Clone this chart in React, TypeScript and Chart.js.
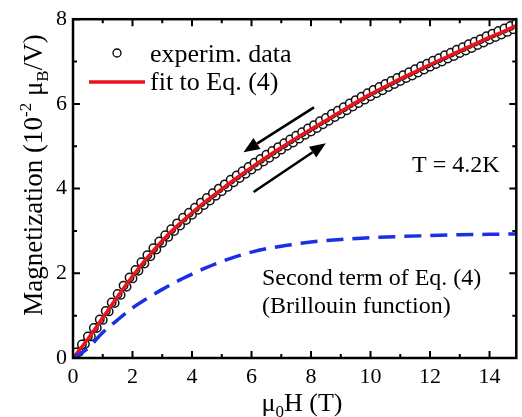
import React, { useEffect, useRef } from "react";
import { Chart, registerables } from "chart.js";

Chart.register(...registerables);

// ---------- data ----------
const FIELD_STEP = 0.2;
// up sweep: field 0.0, 0.2, ... 14.8 T
const upSweepM = [
  0.0, 0.14, 0.33, 0.51, 0.71, 0.9, 1.1, 1.3, 1.49, 1.68, 1.88, 2.06, 2.23, 2.4, 2.56,
  2.72, 2.86, 3.0, 3.13, 3.26, 3.38, 3.5, 3.61, 3.72, 3.83, 3.94, 4.04, 4.15, 4.25, 4.35,
  4.45, 4.54, 4.64, 4.73, 4.82, 4.92, 5.01, 5.09, 5.18, 5.27, 5.35, 5.43, 5.52, 5.6, 5.69,
  5.77, 5.85, 5.94, 6.02, 6.1, 6.18, 6.25, 6.32, 6.4, 6.47, 6.54, 6.61, 6.67, 6.74, 6.81,
  6.88, 6.94, 7.0, 7.07, 7.13, 7.2, 7.26, 7.32, 7.39, 7.45, 7.52, 7.58, 7.64, 7.7, 7.76,
];
// down sweep: field 0.1, 0.3, ... 14.9 T
const downSweepM = [
  0.13, 0.32, 0.51, 0.71, 0.91, 1.11, 1.31, 1.51, 1.71, 1.9, 2.08, 2.26, 2.43, 2.59, 2.75,
  2.9, 3.04, 3.18, 3.31, 3.43, 3.55, 3.67, 3.78, 3.89, 4.0, 4.1, 4.21, 4.31, 4.41, 4.51,
  4.61, 4.7, 4.8, 4.89, 4.98, 5.07, 5.16, 5.25, 5.33, 5.42, 5.5, 5.59, 5.67, 5.76, 5.84,
  5.92, 6.01, 6.09, 6.17, 6.25, 6.33, 6.4, 6.47, 6.54, 6.61, 6.68, 6.75, 6.82, 6.89, 6.95,
  7.02, 7.08, 7.15, 7.21, 7.28, 7.34, 7.41, 7.47, 7.53, 7.6, 7.66, 7.72, 7.78, 7.84, 7.9,
];

const fitField = [0, 0.5, 1, 1.5, 2, 2.5, 3, 3.5, 4, 4.5, 5, 5.5, 6, 6.5, 7, 7.5, 8, 8.5, 9, 9.5, 10, 10.5, 11, 11.5, 12, 12.5, 13, 13.5, 14, 14.5, 14.9];
const fitM = [0, 0.45, 0.95, 1.45, 1.93, 2.37, 2.77, 3.12, 3.43, 3.72, 3.99, 4.25, 4.5, 4.74, 4.97, 5.19, 5.4, 5.61, 5.82, 6.03, 6.23, 6.41, 6.59, 6.76, 6.93, 7.09, 7.25, 7.41, 7.57, 7.72, 7.85];

const brillField = [0, 0.5, 1, 1.5, 2, 2.5, 3, 3.5, 4, 4.5, 5, 5.5, 6, 6.5, 7, 7.5, 8, 9, 10, 11, 12, 13, 14, 14.9];
const brillM = [0, 0.23, 0.6, 0.9, 1.18, 1.41, 1.62, 1.81, 1.98, 2.14, 2.28, 2.4, 2.5, 2.58, 2.64, 2.69, 2.74, 2.8, 2.84, 2.87, 2.89, 2.91, 2.92, 2.93];

const xTicks = [0, 2, 4, 6, 8, 10, 12, 14];
const xMinor = [1, 3, 5, 7, 9, 11, 13];
const yTicks = [0, 2, 4, 6, 8];
const yMinor = [1, 3, 5, 7];

// arrows: [tailX, tailY, headX, headY] in data units
const arrowDown = [8.1, 5.92, 5.73, 4.86];
const arrowUp = [6.07, 3.92, 8.5, 5.07];

const legendLabels = ["experim. data", "fit to Eq. (4)"];
const annotTemp = "T = 4.2K";
const annotLine1 = "Second term of Eq. (4)";
const annotLine2 = "(Brillouin function)";

const SERIF = "'Liberation Serif', 'DejaVu Serif', serif";

function drawArrow(ctx: CanvasRenderingContext2D, x1: number, y1: number, x2: number, y2: number) {
  const ang = Math.atan2(y2 - y1, x2 - x1);
  const headLen = 16;
  const headW = 6.5;
  const bx = x2 - headLen * Math.cos(ang);
  const by = y2 - headLen * Math.sin(ang);
  ctx.beginPath();
  ctx.moveTo(x1, y1);
  ctx.lineTo(bx, by);
  ctx.lineWidth = 2.6;
  ctx.strokeStyle = "#000";
  ctx.stroke();
  ctx.beginPath();
  ctx.moveTo(x2, y2);
  ctx.lineTo(bx + headW * Math.sin(ang), by - headW * Math.cos(ang));
  ctx.lineTo(bx - headW * Math.sin(ang), by + headW * Math.cos(ang));
  ctx.closePath();
  ctx.fillStyle = "#000";
  ctx.fill();
}

const framePlugin = {
  id: "framePlugin",
  afterDatasetsDraw(chart: any) {
    const { ctx, chartArea, scales } = chart;
    const xs = scales.x;
    const ys = scales.y;
    const { left, right, top, bottom } = chartArea;
    ctx.save();
    // arrows
    drawArrow(ctx, xs.getPixelForValue(arrowDown[0]), ys.getPixelForValue(arrowDown[1]), xs.getPixelForValue(arrowDown[2]), ys.getPixelForValue(arrowDown[3]));
    drawArrow(ctx, xs.getPixelForValue(arrowUp[0]), ys.getPixelForValue(arrowUp[1]), xs.getPixelForValue(arrowUp[2]), ys.getPixelForValue(arrowUp[3]));

    // frame
    ctx.strokeStyle = "#000";
    ctx.lineWidth = 2.5;
    ctx.strokeRect(left, top, right - left, bottom - top);
    // ticks
    ctx.lineWidth = 2;
    const major = 7;
    const minor = 4;
    ctx.beginPath();
    const vt = (v: number, len: number) => {
      const px = xs.getPixelForValue(v);
      ctx.moveTo(px, bottom);
      ctx.lineTo(px, bottom - len);
      ctx.moveTo(px, top);
      ctx.lineTo(px, top + len);
    };
    const ht = (v: number, len: number) => {
      const py = ys.getPixelForValue(v);
      ctx.moveTo(left, py);
      ctx.lineTo(left + len, py);
      ctx.moveTo(right, py);
      ctx.lineTo(right - len, py);
    };
    xTicks.forEach((v) => vt(v, major));
    xMinor.forEach((v) => vt(v, minor));
    yTicks.forEach((v) => ht(v, major));
    yMinor.forEach((v) => ht(v, minor));
    ctx.stroke();

    // legend
    ctx.beginPath();
    ctx.arc(117, 53, 4, 0, Math.PI * 2);
    ctx.lineWidth = 1.3;
    ctx.strokeStyle = "#000";
    ctx.stroke();
    ctx.beginPath();
    ctx.moveTo(89, 82);
    ctx.lineTo(145, 82);
    ctx.lineWidth = 3.5;
    ctx.strokeStyle = "#e8141c";
    ctx.stroke();
    ctx.fillStyle = "#000";
    ctx.font = `26px ${SERIF}`;
    ctx.textAlign = "left";
    ctx.textBaseline = "alphabetic";
    ctx.fillText(legendLabels[0], 150, 62);
    ctx.fillText(legendLabels[1], 150, 90);

    // annotations
    ctx.font = `24px ${SERIF}`;
    ctx.fillText(annotTemp, 412, 172);
    ctx.fillText(annotLine1, 262, 285);
    ctx.fillText(annotLine2, 262, 313);

    // x title: μ0H (T)
    const tf = 26;
    const sf = 17;
    ctx.font = `${tf}px ${SERIF}`;
    const mu = "\u03bc";
    const rest = "H (T)";
    const wMu = ctx.measureText(mu).width;
    const wRest = ctx.measureText(rest).width;
    ctx.font = `${sf}px ${SERIF}`;
    const wSub = ctx.measureText("0").width;
    const totalX = wMu + wSub + wRest;
    let cx = 302 - totalX / 2;
    const baseX = 411;
    ctx.font = `${tf}px ${SERIF}`;
    ctx.fillText(mu, cx, baseX);
    cx += wMu;
    ctx.font = `${sf}px ${SERIF}`;
    ctx.fillText("0", cx, baseX + 6);
    cx += wSub;
    ctx.font = `${tf}px ${SERIF}`;
    ctx.fillText(rest, cx, baseX);

    // y title: Magnetization (10^-2 μB/V)
    const yf = 27;
    const ysf = 17;
    ctx.save();
    ctx.translate(42, 175);
    ctx.rotate(-Math.PI / 2);
    const parts: [string, number, number][] = [
      ["Magnetization (10", yf, 0],
      ["-2", ysf, -11],
      [" \u03bc", yf, 0],
      ["B", ysf, 6],
      ["/V)", yf, 0],
    ];
    let total = 0;
    parts.forEach(([t, f]) => {
      ctx.font = `${f}px ${SERIF}`;
      total += ctx.measureText(t).width;
    });
    let px = -total / 2;
    parts.forEach(([t, f, dy]) => {
      ctx.font = `${f}px ${SERIF}`;
      ctx.fillText(t, px, dy);
      px += ctx.measureText(t).width;
    });
    ctx.restore();

    ctx.restore();
  },
};

export default function App() {
  const canvasRef = useRef<HTMLCanvasElement | null>(null);

  useEffect(() => {
    if (!canvasRef.current) return;
    const upData = upSweepM.map((m, i) => ({ x: i * FIELD_STEP, y: m }));
    const downData = downSweepM.map((m, i) => ({ x: 0.1 + i * FIELD_STEP, y: m }));
    const fitData = fitField.map((x, i) => ({ x, y: fitM[i] }));
    const brillData = brillField.map((x, i) => ({ x, y: brillM[i] }));

    const circleStyle = {
      showLine: false,
      pointRadius: 4.2,
      pointBorderWidth: 1.5,
      pointBorderColor: "#111",
      pointBackgroundColor: "#fff",
    };

    const chart = new Chart(canvasRef.current, {
      type: "scatter",
      data: {
        datasets: [
          { label: legendLabels[0], data: upData, ...circleStyle, order: 3 },
          { label: legendLabels[0] + " (down)", data: downData, ...circleStyle, order: 2 },
          {
            label: legendLabels[1],
            data: fitData,
            showLine: true,
            borderColor: "#e8141c",
            borderWidth: 3.5,
            pointRadius: 0,
            cubicInterpolationMode: "monotone",
            order: 1,
          },
          {
            label: annotLine1,
            data: brillData,
            showLine: true,
            borderColor: "#1a2fe6",
            borderWidth: 3.5,
            borderDash: [17, 9],
            pointRadius: 0,
            cubicInterpolationMode: "monotone",
            order: 0,
          },
        ],
      },
      options: {
        animation: false,
        responsive: true,
        maintainAspectRatio: false,
        layout: { padding: { top: 19, right: 2, left: 0, bottom: 0 } },
        plugins: { legend: { display: false }, tooltip: { enabled: false } },
        scales: {
          x: {
            type: "linear",
            min: 0,
            max: 14.9,
            afterBuildTicks: (s: any) => {
              s.ticks = xTicks.map((v) => ({ value: v }));
            },
            afterFit: (s: any) => {
              s.height = 59;
            },
            grid: { display: false, drawTicks: false },
            border: { display: false },
            ticks: { color: "#000", padding: 6, font: { family: SERIF, size: 22 }, maxRotation: 0 },
          },
          y: {
            type: "linear",
            min: 0,
            max: 8,
            afterBuildTicks: (s: any) => {
              s.ticks = yTicks.map((v) => ({ value: v }));
            },
            afterFit: (s: any) => {
              s.width = 73;
            },
            grid: { display: false, drawTicks: false },
            border: { display: false },
            ticks: { color: "#000", padding: 6, font: { family: SERIF, size: 22 } },
          },
        },
      },
      plugins: [framePlugin],
    });
    return () => chart.destroy();
  }, []);

  return (
    <div style={{ position: "absolute", left: 0, top: 0, width: 522, height: 417, background: "#fff" }}>
      <canvas ref={canvasRef} />
    </div>
  );
}
